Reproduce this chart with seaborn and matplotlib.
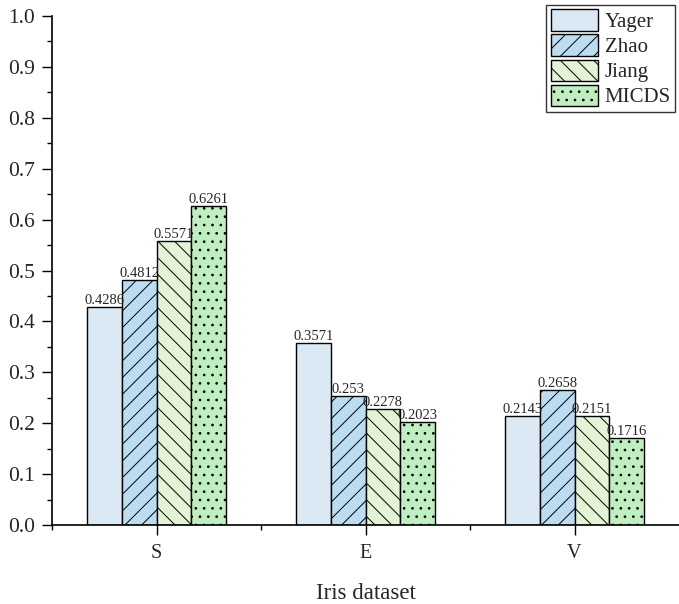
import pandas as pd
import matplotlib.pyplot as plt
import seaborn as sns
from matplotlib.ticker import MultipleLocator, FixedLocator

# data
groups = ['S', 'E', 'V']
methods = ['Yager', 'Zhao', 'Jiang', 'MICDS']
yager = [0.4286, 0.3571, 0.2143]
zhao = [0.4812, 0.253, 0.2658]
jiang = [0.5571, 0.2278, 0.2151]
micds = [0.6261, 0.2023, 0.1716]

colors = ['#dae9f3', '#bcdcf2', '#e4f3d6', '#bfeec0']
hatches = ['', '//', '\\\\', '..']

rows = []
for m, vals in zip(methods, [yager, zhao, jiang, micds]):
    for g, v in zip(groups, vals):
        rows.append({'group': g, 'method': m, 'value': v})
df = pd.DataFrame(rows)

sns.set_theme(style='ticks')
plt.rcParams['font.family'] = ['Liberation Serif', 'DejaVu Serif']
plt.rcParams['hatch.linewidth'] = 0.7

fig = plt.figure(figsize=(6.79, 6.04), dpi=100)
ax = fig.add_axes([0.0766, 0.1308, 0.9234, 0.8427])

sns.barplot(data=df, x='group', y='value', hue='method', order=groups,
            hue_order=methods, palette=colors, width=0.667, saturation=1,
            edgecolor='black', linewidth=1, ax=ax)

for cont, h in zip(ax.containers, hatches):
    for bar in cont:
        bar.set_hatch(h)
    ax.bar_label(cont, labels=[str(v) for v in cont.datavalues],
                 fontsize=10.5, padding=0)

ax.set_ylim(0, 1.0)
ax.set_xlim(-0.5, 2.5)
ax.yaxis.set_major_locator(MultipleLocator(0.1))
ax.yaxis.set_minor_locator(MultipleLocator(0.05))
ax.set_yticklabels([f'{v:.1f}' for v in ax.get_yticks()])
ax.xaxis.set_minor_locator(FixedLocator([-0.5, 0.5, 1.5]))
ax.tick_params(axis='both', which='major', length=7, width=1,
               color='black', direction='out')
ax.tick_params(axis='both', which='minor', length=3.5, width=1,
               color='black', direction='out')
ax.tick_params(axis='y', which='major', labelsize=15.5, pad=5)
ax.tick_params(axis='x', which='major', labelsize=14.5, pad=7)

for side in ['left', 'bottom']:
    ax.spines[side].set_color('black')
    ax.spines[side].set_linewidth(1.2)
sns.despine(ax=ax)

ax.set_xlabel('Iris dataset', fontsize=16.5, labelpad=14)
ax.set_ylabel('')

leg = ax.legend(loc='upper right', bbox_to_anchor=(675 / 679, 1 - 5 / 604),
                bbox_transform=fig.transFigure, fontsize=15,
                frameon=True, fancybox=False, edgecolor='black',
                handlelength=2.3, handleheight=1.2, handletextpad=0.3,
                labelspacing=0.12, borderpad=0.2, borderaxespad=0)
leg.get_frame().set_linewidth(1)
for patch, h in zip(leg.get_patches(), hatches):
    patch.set_hatch(h)
    patch.set_edgecolor('black')

plt.savefig('out.png', dpi=100)
plt.close()
